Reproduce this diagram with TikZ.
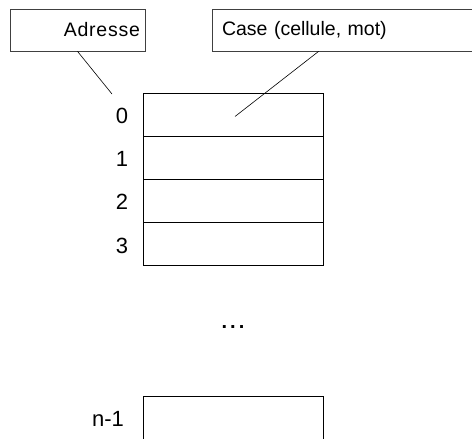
\documentclass[tikz,border=0pt]{standalone}
\usepackage{fontspec}
\setmainfont{Liberation Sans}
\begin{document}
\begin{tikzpicture}[x=1pt,y=-1pt,
  callout/.style={draw=black!75,line width=0.7pt,minimum height=42pt,inner sep=0pt,
    font=\fontsize{19.5}{22}\selectfont},
  cell/.style={draw=black,line width=1pt,minimum width=180pt,minimum height=43pt,inner sep=0pt,outer sep=0pt},
  idx/.style={font=\fontsize{22}{24}\selectfont,inner sep=0pt},
  lead/.style={draw=black,line width=0.6pt}]
\useasboundingbox (0,0) rectangle (472,439);
\clip (0,0) rectangle (472,439);
% callouts
\node[callout,minimum width=135pt,text width=125pt,align=right] (adr) at (77.5,30) {\addfontfeature{LetterSpace=4}Adresse};
\node[callout,minimum width=260pt,text width=240pt,align=left] (case) at (342,30) {Case (cellule, mot)};
% cells
\node[cell] (c0) at (233.3,115) {};
\node[cell] (c1) at (233.3,158) {};
\node[cell] (c2) at (233.3,201) {};
\node[cell] (c3) at (233.3,244) {};
\node[cell] (cn) at (233.3,418.2) {};
% index labels
\node[idx] (l0) at (122,115.5) {0};
\node[idx] (l1) at (122,158.5) {1};
\node[idx] (l2) at (122,202) {2};
\node[idx] (l3) at (122,245.5) {3};
\node[idx] (ln) at (108,418.5) {n-1};
\node[font=\bfseries\fontsize{20}{22}\selectfont,inner sep=0pt] (dots) at (233,327) {.\hspace{3pt}.\hspace{3pt}.};
% leaders
\coordinate (pa) at (112,94);
\coordinate (pc) at (235,116.5);
\draw[lead] (adr.south) -- (pa);
\draw[lead] ([xshift=107pt]case.south west) -- (pc);
\end{tikzpicture}
\end{document}
